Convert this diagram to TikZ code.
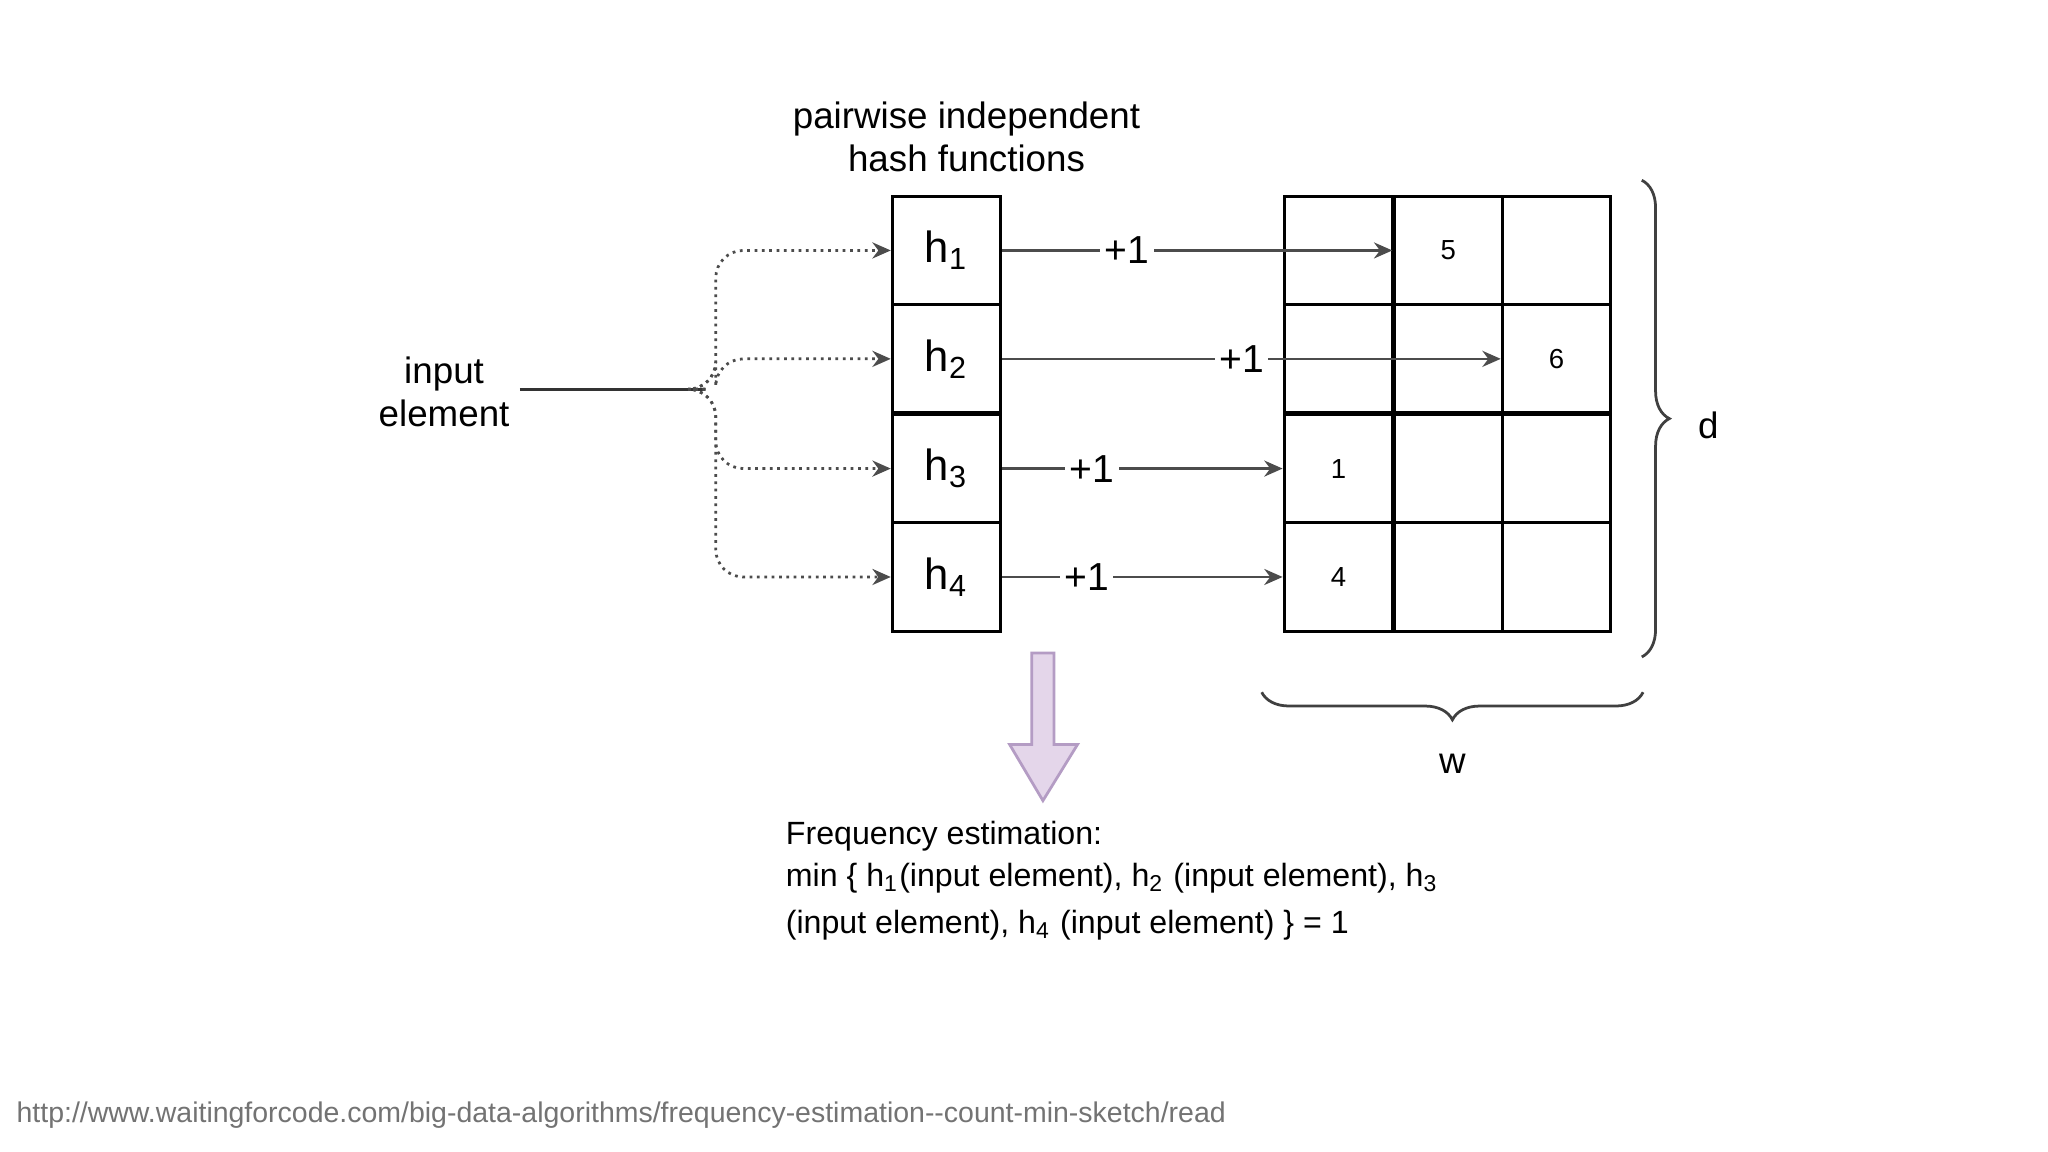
\documentclass[tikz,border=0pt]{standalone}
\usepackage{fontspec}
\setmainfont{Liberation Sans}
\usetikzlibrary{arrows.meta,decorations.pathreplacing}
\definecolor{pfill}{HTML}{E4D6EA}
\definecolor{pdraw}{HTML}{B49CC4}
\begin{document}
\begin{tikzpicture}[x=0.01cm,y=-0.01cm,
  cell/.style={draw,line width=0.7pt,minimum width=0.83cm,minimum height=0.83cm,inner sep=0pt,anchor=north west},
  hlab/.style={font=\fontsize{9.5}{11}\selectfont},
  num/.style={font=\fontsize{6}{7}\selectfont},
  plus/.style={font=\fontsize{8.5}{10}\selectfont,fill=white,inner sep=1pt},
  arr/.style={draw=black!70,line width=0.5pt,-{Stealth[length=4pt,width=3.5pt]}},
  dot/.style={draw=black!70,line width=0.6pt,densely dotted,rounded corners=6pt,-{Stealth[length=4pt,width=3.5pt]}},
  txt/.style={font=\fontsize{8}{9.4}\selectfont,align=center}]
\useasboundingbox[fill=white] (0,0) rectangle (1568,882);
% hash boxes
\foreach \i/\y in {1/149,2/232,3/316,4/399}{
  \node[cell,hlab] (h\i) at (682,\y) {h\textsubscript{\i}};
}
% grid
\foreach \r/\y in {1/149,2/232,3/316,4/399}{
  \foreach \c/\x in {1/982,2/1066,3/1149}{
    \node[cell] (g\r\c) at (\x,\y) {};
  }
}
\node[num] at (g12) {5};
\node[num] at (g23) {6};
\node[num] at (g31) {1};
\node[num] at (g41) {4};
\node[txt] (title) at (740,105) {pairwise independent\\hash functions};
\node[txt] (in) at (340,300) {input\\element};
\coordinate (split) at (548,298);
\draw[black!80,line width=0.6pt] (398,298) -- (540,298);
\foreach \i in {1,2,3,4}{
  \path[dot] (540,298) -- (split) |- (h\i.west);
}
\path[arr] (h1.east) -- node[plus,pos=0.32]{+1} (g12.west);
\path[arr] (h2.east) -- node[plus,pos=0.48]{+1} (g23.west);
\path[arr] (h3.east) -- node[plus,pos=0.32]{+1} (g31.west);
\path[arr] (h4.east) -- node[plus,pos=0.3]{+1} (g41.west);
% braces
\draw[black!75,line width=0.6pt,decorate,decoration={brace,amplitude=6pt,aspect=0.5}] (1257,138) -- (1257,503);
\node[txt] (d) at (1308,326) {d};
\draw[black!75,line width=0.6pt,decorate,decoration={brace,mirror,amplitude=6pt}] (966,530) -- (1258,530);
\node[txt] (w) at (1112,585) {w};
% big arrow
\draw[draw=pdraw,fill=pfill,line width=0.6pt] (790,500) -- (807,500) -- (807,570) -- (825,570) -- (798.5,613) -- (773,570) -- (790,570) -- cycle;
\node[font=\fontsize{7}{9.2}\selectfont,align=left,anchor=north west,inner sep=0pt] (freq) at (601,628) {Frequency estimation:\\min \{ h\textsubscript{1}(input element), h\textsubscript{2} (input element), h\textsubscript{3}\\[1pt](input element), h\textsubscript{4} (input element) \} = 1};
\node[font=\fontsize{6.2}{7}\selectfont,text=black!55,anchor=west,inner sep=0pt] (url) at (12,854) {http://www.waitingforcode.com/big-data-algorithms/frequency-estimation-{}-count-min-sketch/read};
\end{tikzpicture}
\end{document}
